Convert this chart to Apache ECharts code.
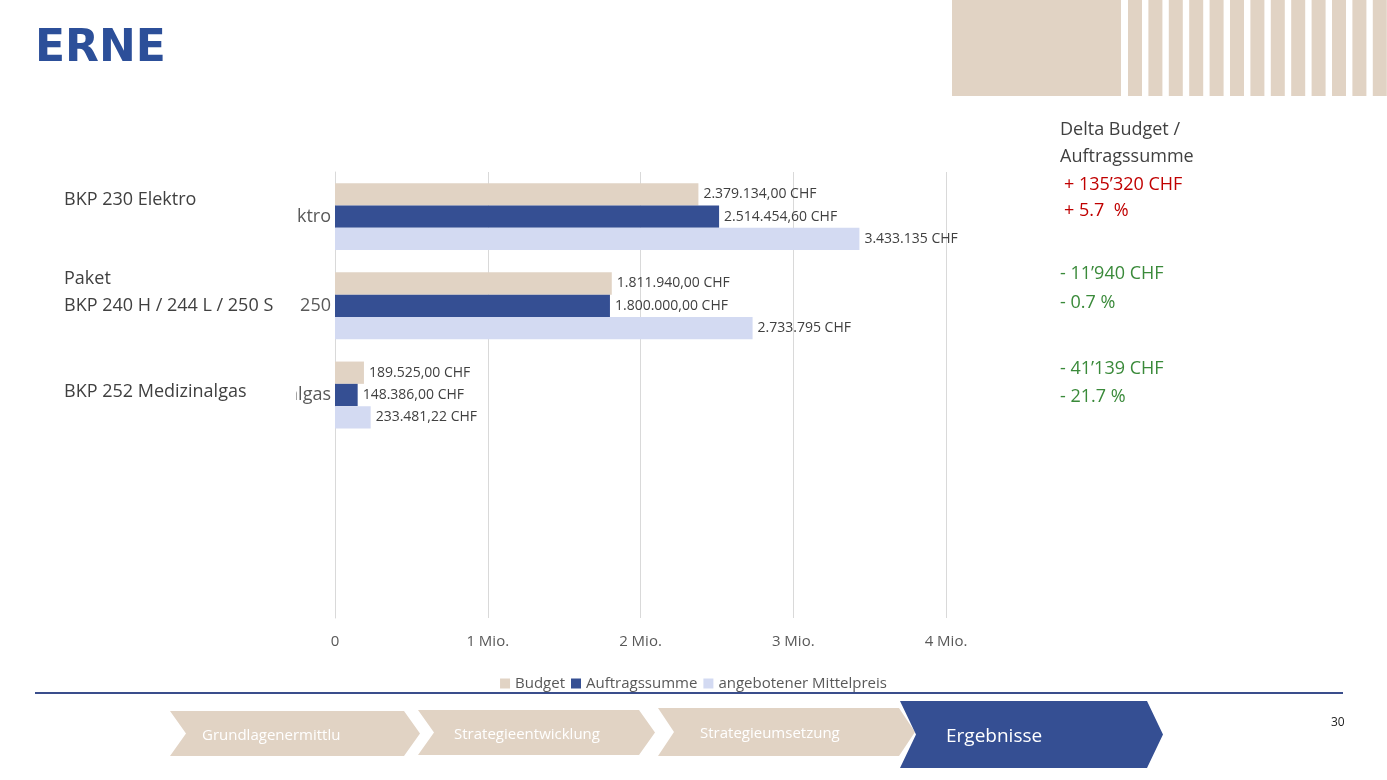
<!DOCTYPE html>
<html><head><meta charset="utf-8">
<script src="https://cdn.jsdelivr.net/npm/echarts@6/dist/echarts.min.js"></script>
<style>html,body{margin:0;padding:0;background:#fff}#c{width:1387px;height:780px}</style>
</head><body><div id="c"></div>
<script>
const categories = ['Elektro', '250', 'Medizinalgas', '', ''];
const budget = [2379134, 1811940, 189525, null, null];
const auftrag = [2514454.6, 1800000, 148386, null, null];
const mittel = [3433135, 2733795, 233481.22, null, null];
const budgetLabels = ['2.379.134,00 CHF', '1.811.940,00 CHF', '189.525,00 CHF', '', ''];
const auftragLabels = ['2.514.454,60 CHF', '1.800.000,00 CHF', '148.386,00 CHF', '', ''];
const mittelLabels = ['3.433.135 CHF', '2.733.795 CHF', '233.481,22 CHF', '', ''];
const xTicks = {0: '0', 1000000: '1 Mio.', 2000000: '2 Mio.', 3000000: '3 Mio.', 4000000: '4 Mio.'};

const F = '"Open Sans", "Noto Sans", sans-serif';
const chart = echarts.init(document.getElementById('c'));
const lbl = arr => ({show: true, position: 'right', distance: 5, color: '#404040', fontSize: 14, fontFamily: F,
  formatter: p => arr[p.dataIndex]});
const g = [];
// logo
g.push({type:'text', left:35, top:28, z:10, style:{text:'ERNE', font:'900 44px "DejaVu Sans", sans-serif', fill:'#2C4F99'}});
// top-right decoration
g.push({type:'rect', shape:{x:952,y:0,width:169,height:96}, style:{fill:'#E1D3C4'}, z:10});
for (let i=0;i<13;i++) g.push({type:'rect', shape:{x:1128+i*20.4,y:0,width:14,height:96}, style:{fill:'#E1D3C4'}, z:10});
// overlay boxes over category labels
const boxes = [[60,180,236,55],[60,262,236,70],[60,372,236,45]];
boxes.forEach(b=>g.push({type:'rect', shape:{x:b[0],y:b[1],width:b[2],height:b[3]}, style:{fill:'#fff'}, z:10}));
const txt = (t,x,y,c,s)=>g.push({type:'text', x, y, z:11, style:{text:t, font:(s||18)+'px '+F, fill:c||'#404040', textVerticalAlign:'middle'}});
txt('BKP 230 Elektro',64,200); txt('Paket',64,279); txt('BKP 240 H / 244 L / 250 S',64,306); txt('BKP 252 Medizinalgas',64,392);
txt('Delta Budget /',1060,130); txt('Auftragssumme',1060,157);
txt('+ 135’320 CHF',1064,185,'#C00000'); txt('+ 5.7  %',1064,211,'#C00000');
txt('- 11’940 CHF',1060,274,'#3A8A3A'); txt('- 0.7 %',1060,303,'#3A8A3A');
txt('- 41’139 CHF',1060,369,'#3A8A3A'); txt('- 21.7 %',1060,397,'#3A8A3A');
txt('30',1331,723,'#222',12);
// bottom line
g.push({type:'line', shape:{x1:35,y1:693,x2:1343,y2:693}, style:{stroke:'#3A4E8C', lineWidth:2}, z:10});
// chevrons
const chev = (x1,x2,y1,y2,fill,text,tc,fs,tx)=>{
  const m=(y1+y2)/2, d=16;
  g.push({type:'polygon', z:10, shape:{points:[[x1,y1],[x2-d,y1],[x2,m],[x2-d,y2],[x1,y2],[x1+d,m]]}, style:{fill}});
  g.push({type:'text', z:11, x:tx, y:m+2, style:{text, font:fs+'px '+F, fill:tc, textVerticalAlign:'middle'}});
};
chev(170,420,711,756,'#E1D3C4','Grundlagenermittlu','#fff',15,202);
chev(418,655,710,755,'#E1D3C4','Strategieentwicklung','#fff',15,454);
chev(658,915,708,756,'#E1D3C4','Strategieumsetzung','#fff',15,700);
chev(900,1163,701,768,'#354F93','Ergebnisse','#fff',19,946);

chart.setOption({
  animation:false,
  grid:{left:335, right:441, top:172, bottom:162, containLabel:false},
  legend:{bottom:84, left:'center', itemWidth:10, itemHeight:10, itemGap:6, icon:'rect',
    textStyle:{color:'#595959', fontSize:15, fontFamily:F}},
  xAxis:{type:'value', min:0, max:4000000, interval:1000000,
    axisLabel:{color:'#595959', fontSize:15, fontFamily:F, margin:16, formatter:v=>xTicks[v]},
    splitLine:{lineStyle:{color:'#D9D9D9'}}, axisLine:{show:false}, axisTick:{show:false}},
  yAxis:{type:'category', inverse:true, data:categories,
    axisLabel:{color:'#595959', fontSize:18, fontFamily:F, margin:4},
    axisLine:{lineStyle:{color:'#D9D9D9'}}, axisTick:{show:false}},
  series:[
    {name:'Budget', type:'bar', data:budget, itemStyle:{color:'#E1D3C4'}, barGap:'0%', barCategoryGap:'25%', label:lbl(budgetLabels)},
    {name:'Auftragssumme', type:'bar', data:auftrag, itemStyle:{color:'#354F93'}, label:lbl(auftragLabels)},
    {name:'angebotener Mittelpreis', type:'bar', data:mittel, itemStyle:{color:'#D3DAF2'}, label:lbl(mittelLabels)}
  ],
  graphic:g
});
</script></body></html>
